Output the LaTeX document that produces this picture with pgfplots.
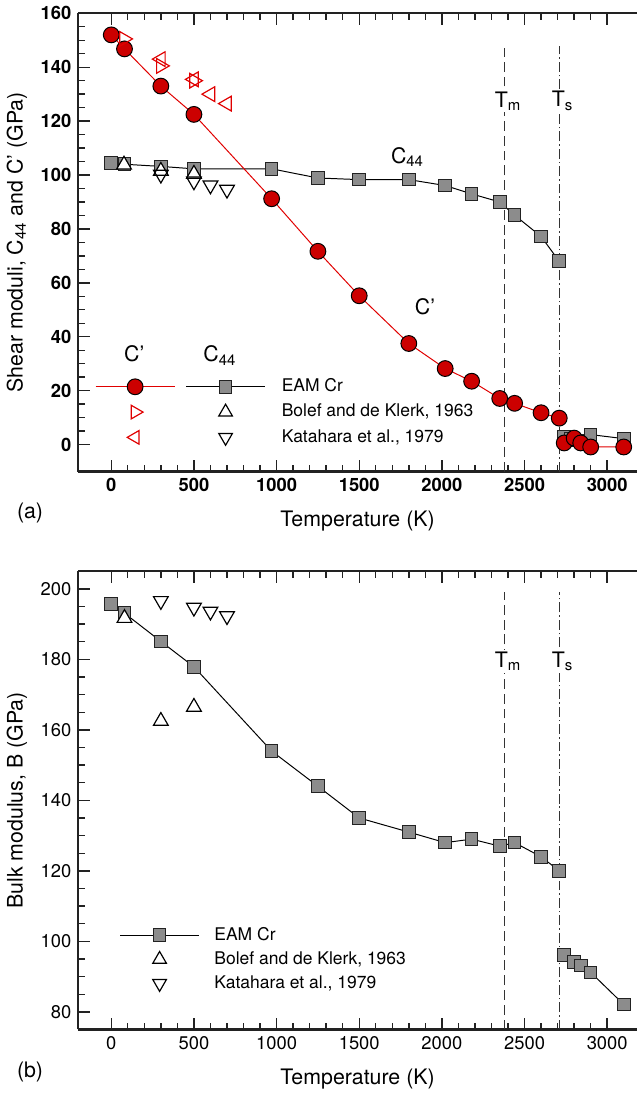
\documentclass[border=0pt]{standalone}
\usepackage{pgfplots}
\pgfplotsset{compat=1.18}
\usepackage{fontspec}
\setmainfont{TeX Gyre Heros}
\definecolor{cred}{HTML}{CC0000}
\definecolor{lred}{HTML}{E00000}
\definecolor{sqgray}{HTML}{8C8C8C}
\definecolor{txt}{HTML}{222222}
\definecolor{vline}{HTML}{333333}
\newcommand{\lf}{\fontsize{8.85}{11}\selectfont}
\newcommand{\bigf}{\fontsize{10.8}{13}\selectfont}
\pgfplotsset{
  panel/.style={
    scale only axis, width=282.9pt, height=232pt,
    xmin=-200, xmax=3180,
    axis x line*=box, axis y line*=left,
    tick align=inside,
    xtick={0,500,...,3000}, minor x tick num=4,
    minor y tick num=3,
    major tick length=6pt, minor tick length=3.5pt,
    every tick/.style={line width=0.7pt, draw=txt},
    axis line style={line width=1.1pt, draw=txt},
    /pgf/number format/assume math mode=true,
    /pgf/number format/1000 sep={},
    label style={font=\bigf},
    xlabel={Temperature (K)},
    xlabel style={yshift=-3pt},
    clip=false,
  },
  eamc/.style={lred, line width=0.5pt, mark=*, mark size=4pt, mark options={fill=cred, draw=black, line width=0.5pt, solid}},
  eams/.style={black, line width=0.5pt, mark=square*, mark size=3.2pt, mark options={fill=sqgray, draw=txt, line width=0.5pt, solid}},
  tmline/.style={vline, line width=0.6pt, dash pattern=on 5pt off 2.5pt},
  tsline/.style={vline, line width=0.6pt, dash pattern=on 5pt off 1.5pt on 0.8pt off 1.5pt},
  lgline/.style={legend image code/.code={\draw[mark repeat=2, mark phase=2, ##1] plot coordinates {(0pt,0pt) (20pt,0pt) (40pt,0pt)};}},
  lgmark/.style={legend image code/.code={\path (0pt,0pt) (40pt,0pt); \draw[##1] plot coordinates {(20pt,0pt)};}},
}
\begin{document}
\begin{tikzpicture}
\begin{axis}[panel, ymin=-10, ymax=160, ytick={0,20,...,160},
  tick label style={font=\bfseries\fontsize{9.3}{11}\selectfont},
  ylabel={Shear moduli, C\textsubscript{44} and C’ (GPa)},
  legend style={draw=none, fill=none, at={(axis cs:-100,24.8)}, anchor=north west,
    legend columns=3, font=\lf,
    nodes={inner sep=0pt, text height=6.8pt, text depth=2pt},
    row sep=4pt, inner sep=0pt,
    /tikz/column 2/.style={column sep=4.3pt},
    /tikz/column 4/.style={column sep=7.2pt}},
  legend cell align=left]
% C44 EAM
\addplot[eams, forget plot] coordinates {(0,104.4) (80,104) (300,103.2) (500,102.3) (970,102.3) (1250,98.9) (1500,98.3) (1800,98.3) (2020,96.1) (2180,93) (2350,90) (2440,85.1) (2600,77.2) (2710,68)};
\addplot[eams, forget plot] coordinates {(2740,3) (2780,2) (2820,1.5) (2900,3.7) (3100,2.2)};
% C' EAM
\addplot[eamc, forget plot] coordinates {(0,152) (80,146.8) (300,133) (500,122.5) (970,91.2) (1250,71.7) (1500,55.2) (1800,37.5) (2020,28.2) (2180,23.5) (2350,17.1) (2440,15.3) (2600,11.8) (2710,9.8)};
\addplot[eamc, forget plot] coordinates {(2740,0.6) (2800,2.4) (2840,0.6) (2900,-0.9) (3100,-0.9)};
% experiments
\addplot[lred, only marks, mark=triangle, mark size=4.3pt, mark options={rotate=-90, line width=0.6pt}, forget plot] coordinates {(77,150.5) (300,140.5) (500,135)};
\addplot[lred, only marks, mark=triangle, mark size=4.3pt, mark options={rotate=90, line width=0.6pt}, forget plot] coordinates {(300,143) (500,135.5) (600,130) (700,126.5)};
\addplot[black, only marks, mark=triangle*, mark size=4.3pt, mark options={fill=white, line width=0.6pt}, forget plot] coordinates {(77,103.8) (300,101.5) (500,100.4)};
\addplot[black, only marks, mark=triangle, mark size=4.3pt, mark options={rotate=180, line width=0.6pt}, forget plot] coordinates {(300,100.2) (500,97.7) (600,96.2) (700,94.6)};
% transition lines
\addplot[tmline, forget plot] coordinates {(2380,-10) (2380,147)};
\addplot[tsline, forget plot] coordinates {(2710,-10) (2710,148)};
\node[fill=white, inner sep=1pt, font=\bigf] at (axis cs:2400,127.5) {T\textsubscript{m}};
\node[fill=white, inner sep=1pt, font=\bigf] at (axis cs:2730,127.5) {T\textsubscript{s}};
\node[font=\bigf] at (axis cs:1792,106.8) {C\textsubscript{44}};
\node[font=\bigf] at (axis cs:1898,51.3) {C’};
\node[font=\bigf] at (axis cs:139,33.6) {C’};
\node[font=\bigf] at (axis cs:657,33) {C\textsubscript{44}};
\node[anchor=west, font=\bigf] at (rel axis cs:-0.122,-0.0905) {(a)};
% legend
\addlegendimage{eamc, lgline}\addlegendentry{}
\addlegendimage{eams, lgline}\addlegendentry{}
\addlegendimage{empty legend}\addlegendentry{\lf EAM Cr}
\addlegendimage{lred, only marks, mark=triangle, mark size=4pt, mark options={rotate=-90, line width=0.6pt}, lgmark}\addlegendentry{}
\addlegendimage{black, only marks, mark=triangle, mark size=4pt, mark options={line width=0.6pt}, lgmark}\addlegendentry{}
\addlegendimage{empty legend}\addlegendentry{\lf Bolef and de Klerk, 1963}
\addlegendimage{lred, only marks, mark=triangle, mark size=4pt, mark options={rotate=90, line width=0.6pt}, lgmark}\addlegendentry{}
\addlegendimage{black, only marks, mark=triangle, mark size=4pt, mark options={rotate=180, line width=0.6pt}, lgmark}\addlegendentry{}
\addlegendimage{empty legend}\addlegendentry{\lf Katahara et al., 1979}
\end{axis}

\begin{axis}[panel, at={(0,-50.5pt)}, anchor=north west, ymin=75, ymax=205, ytick={80,100,...,200},
  tick label style={font=\fontsize{9.3}{11}\selectfont},
  ylabel={Bulk modulus, B (GPa)},
  legend style={draw=none, fill=none, at={(axis cs:48,104.3)}, anchor=north west,
    legend columns=1, font=\lf,
    nodes={inner sep=0pt, text height=6.8pt, text depth=2pt},
    row sep=3.4pt, inner sep=0pt,
    /tikz/column 1/.style={column sep=7.5pt}},
  legend cell align=left]
\addplot[eams, forget plot] coordinates {(0,195.7) (80,193.1) (300,185.1) (500,177.9) (970,154) (1250,144) (1500,135) (1800,131) (2020,128) (2180,129) (2350,127) (2440,128) (2600,124) (2710,120)};
\addplot[eams, forget plot] coordinates {(2740,96.2) (2800,94.2) (2840,93.1) (2900,91.2) (3100,82.1)};
\addplot[black, only marks, mark=triangle*, mark size=4.3pt, mark options={fill=white, line width=0.6pt}, forget plot] coordinates {(80,191.7) (300,162.5) (500,166.5)};
\addplot[black, only marks, mark=triangle, mark size=4.3pt, mark options={rotate=180, line width=0.6pt}, forget plot] coordinates {(300,196.6) (500,194.7) (600,193.6) (700,192.3)};
\addplot[tmline, forget plot] coordinates {(2380,75) (2380,199)};
\addplot[tsline, forget plot] coordinates {(2710,75) (2710,199)};
\node[fill=white, inner sep=1pt, font=\bigf] at (axis cs:2400,179.5) {T\textsubscript{m}};
\node[fill=white, inner sep=1pt, font=\bigf] at (axis cs:2730,179.5) {T\textsubscript{s}};
\node[anchor=west, font=\bigf] at (rel axis cs:-0.122,-0.0927) {(b)};
\addlegendimage{eams, lgline}\addlegendentry{\lf EAM Cr}
\addlegendimage{black, only marks, mark=triangle, mark size=4pt, mark options={line width=0.6pt}, lgmark}\addlegendentry{\lf Bolef and de Klerk, 1963}
\addlegendimage{black, only marks, mark=triangle, mark size=4pt, mark options={rotate=180, line width=0.6pt}, lgmark}\addlegendentry{\lf Katahara et al., 1979}
\end{axis}
\end{tikzpicture}
\end{document}
